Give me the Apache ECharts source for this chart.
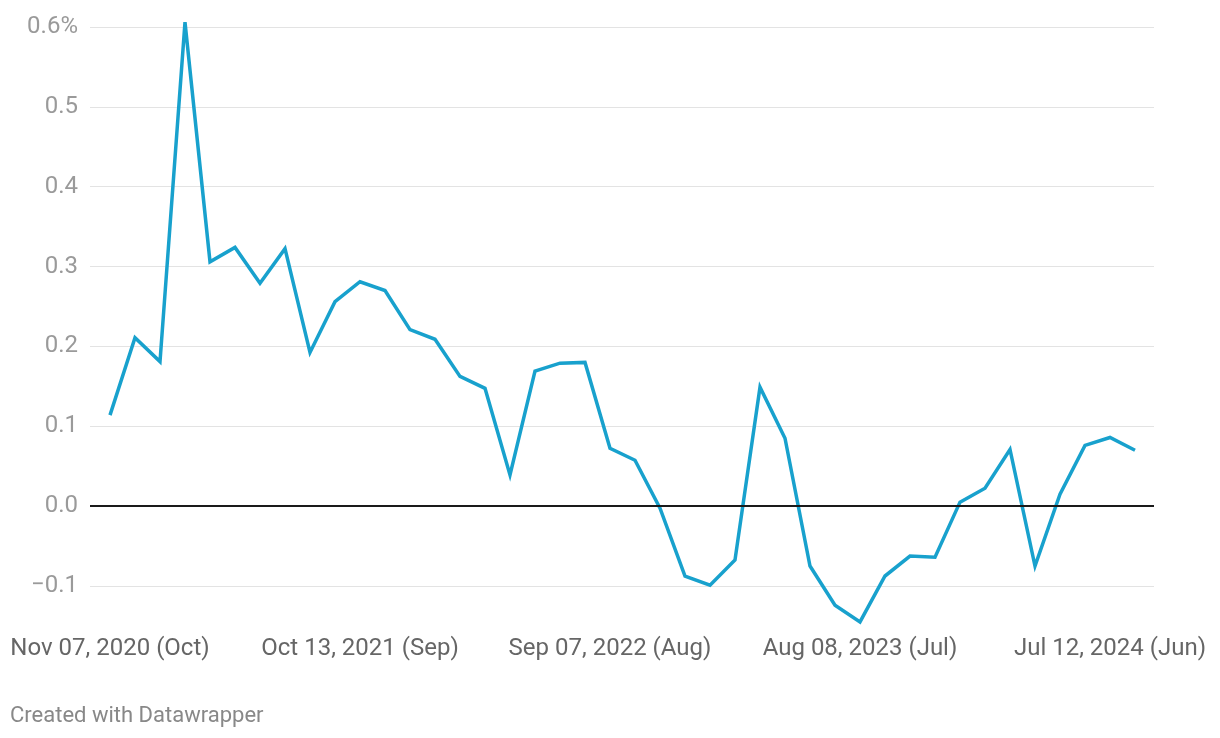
<!DOCTYPE html>
<html>
<head>
<meta charset="utf-8">
<script src="https://cdn.jsdelivr.net/npm/echarts@6/dist/echarts.min.js"></script>
<style>
html,body{margin:0;padding:0;background:#fff;}
#chart{width:1220px;height:738px;}
</style>
</head>
<body>
<div id="chart"></div>
<script>
var values = [0.114, 0.211, 0.181, 0.606, 0.306, 0.324, 0.279, 0.3225, 0.1925, 0.256,
  0.281, 0.27, 0.221, 0.209, 0.1625, 0.1475, 0.039, 0.169, 0.179, 0.18,
  0.0725, 0.0575, -0.0025, -0.0875, -0.099, -0.0675, 0.149, 0.085, -0.075, -0.124,
  -0.145, -0.0875, -0.0625, -0.064, 0.005, 0.0225, 0.071, -0.075, 0.015, 0.076,
  0.086, 0.07];
var tickIndex = [0, 10, 20, 30, 40];
var tickLabels = ["Nov 07, 2020 (Oct)", "Oct 13, 2021 (Sep)", "Sep 07, 2022 (Aug)", "Aug 08, 2023 (Jul)", "Jul 12, 2024 (Jun)"];
var yTicks = [-0.1, 0, 0.1, 0.2, 0.3, 0.4, 0.5, 0.6];

var seriesData = values.map(function (v, i) { return [i, v]; });

var chart = echarts.init(document.getElementById('chart'));
chart.setOption({
  animation: false,
  backgroundColor: '#fff',
  textStyle: { fontFamily: 'Roboto' },
  title: {
    text: 'Created with Datawrapper',
    left: 5, top: 700,
    textStyle: { fontFamily: 'Roboto', fontSize: 22, fontWeight: 'normal', color: '#888' }
  },
  grid: { left: 90, right: 66, top: 27, bottom: 152, containLabel: false },
  xAxis: {
    type: 'value',
    min: -0.8, max: 41.76,
    axisLine: { show: false },
    axisTick: { show: false },
    splitLine: { show: false },
    axisLabel: {
      customValues: tickIndex,
      margin: 51,
      fontFamily: 'Roboto', fontSize: 24, color: '#666',
      formatter: function (v) {
        var k = tickIndex.indexOf(Math.round(v));
        return k >= 0 ? tickLabels[k] : '';
      }
    }
  },
  yAxis: {
    type: 'value',
    min: -0.1, max: 0.6, interval: 0.1,
    axisLine: { show: false },
    axisTick: { show: false },
    splitLine: { lineStyle: { color: '#e3e3e3', width: 1 } },
    axisLabel: {
      margin: 12,
      fontFamily: 'Roboto', fontSize: 24, color: '#9a9a9a',
      formatter: function (v) {
        var r = Math.round(v * 10) / 10;
        if (Math.abs(r - 0.6) < 1e-9) return '0.6%';
        var s = Math.abs(r).toFixed(1);
        return r < 0 ? '\u2212' + s : s;
      }
    }
  },
  series: [{
    type: 'line',
    data: seriesData,
    symbol: 'none',
    clip: false,
    lineStyle: { color: '#18a1cd', width: 3.5, join: 'miter' },
    markLine: {
      silent: true,
      symbol: 'none',
      label: { show: false },
      lineStyle: { color: '#1a1a1a', width: 2, type: 'solid' },
      data: [{ yAxis: 0 }]
    },
    z: 3
  }]
});
</script>
</body>
</html>
